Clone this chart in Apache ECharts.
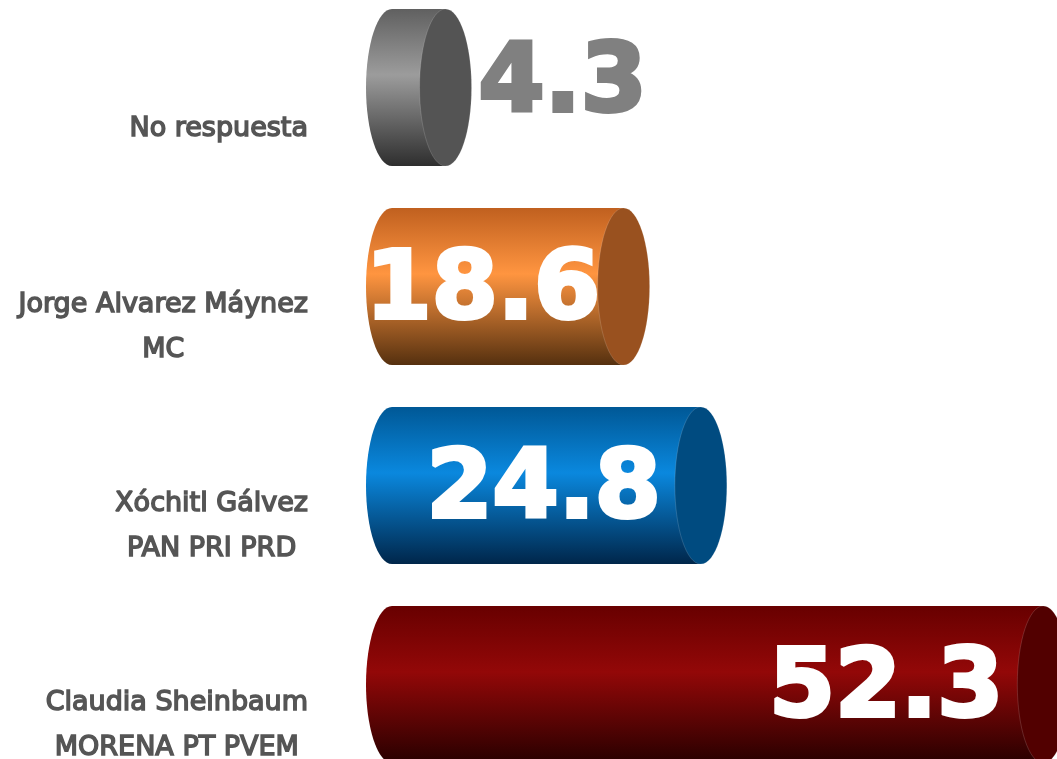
<!DOCTYPE html>
<html>
<head>
<meta charset="utf-8">
<script src="https://cdn.jsdelivr.net/npm/echarts@6/dist/echarts.min.js"></script>
<style>
  html, body { margin: 0; padding: 0; background: #fff; }
  #chart { width: 1057px; height: 759px; }
</style>
</head>
<body>
<div id="chart"></div>
<script>
// categories, top to bottom
const candidates = [
  ['No respuesta'],
  ['Jorge Alvarez Máynez', 'MC'],
  ['Xóchitl Gálvez', 'PAN PRI PRD'],
  ['Claudia Sheinbaum', 'MORENA PT PVEM']
];
const shares = [4.3, 18.6, 24.8, 52.3];

// cylinder colours: [top, light band, bottom, end cap]
const palette = [
  ['#606060', '#9c9c9c', '#2e2e2e', '#545454'],
  ['#c0601f', '#ff9540', '#55300f', '#99511f'],
  ['#005896', '#0a88de', '#00264a', '#004b80'],
  ['#680000', '#930808', '#280000', '#520000']
];

const chart = echarts.init(document.getElementById('chart'));

function cylinder(params, api) {
  const i = params.dataIndex;
  const v = api.value(1);
  const p0 = api.coord([0, api.value(0)]);
  const p1 = api.coord([v, api.value(0)]);
  const h = api.size([0, 1])[1] * 0.79;
  const rx = 26, ry = h / 2;
  const cy = p0[1], x0 = p0[0], x1 = p1[0];
  const c = palette[i];
  const body = new echarts.graphic.LinearGradient(0, 0, 0, 1, [
    { offset: 0, color: c[0] },
    { offset: 0.42, color: c[1] },
    { offset: 1, color: c[2] }
  ]);
  const kids = [
    { type: 'ellipse', shape: { cx: x0, cy: cy, rx: rx, ry: ry }, style: { fill: body } },
    { type: 'rect', shape: { x: x0, y: cy - ry, width: x1 - x0, height: h }, style: { fill: body } },
    { type: 'ellipse', shape: { cx: x1, cy: cy, rx: rx, ry: ry }, style: { fill: c[3], stroke: 'rgba(255,255,255,0.15)', lineWidth: 1 } }
  ];
  const txt = v.toFixed(1);
  const font = 'bold 95px "DejaVu Sans"';
  if (v < 10) {
    kids.push({ type: 'text', style: { x: x1 + rx + 7, y: cy - 1, text: txt, fill: '#808080',
      stroke: '#808080', lineWidth: 4, font: font, align: 'left', verticalAlign: 'middle' } });
  } else {
    const right = Math.max(x1 - 40, x0 - rx + 234);
    kids.push({ type: 'text', style: { x: right, y: cy + 7, text: txt, fill: '#fff',
      stroke: '#fff', lineWidth: 4, font: font, align: 'right', verticalAlign: 'middle' } });
  }
  return { type: 'group', children: kids };
}

chart.setOption({
  animation: false,
  grid: { left: 392, right: 0, top: -12, height: 796, outerBoundsMode: 'none' },
  xAxis: { type: 'value', min: 0, max: 53.4, show: false },
  yAxis: {
    type: 'category',
    inverse: true,
    data: candidates.map(c => c.join('\n')),
    axisLine: { show: false },
    axisTick: { show: false },
    axisLabel: {
      margin: 84,
      padding: [82, 0, 0, 0],
      formatter: s => s.split('\n').map(l => '{c|' + l + '}').join('\n'),
      rich: {
        c: { align: 'center', color: '#555', fontSize: 27, fontFamily: '"DejaVu Sans"',
             textBorderColor: '#555', textBorderWidth: 1.5, lineHeight: 45 }
      }
    }
  },
  series: [{
    type: 'custom',
    renderItem: cylinder,
    encode: { x: 1, y: 0 },
    data: shares.map((v, i) => [i, v])
  }]
});
</script>
</body>
</html>
